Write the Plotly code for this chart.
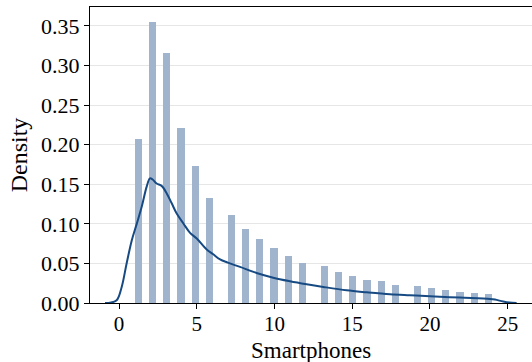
import plotly.graph_objects as go

# Histogram data: integer values and their bin densities
smartphones = list(range(1, 25))
density = [0.207, 0.355, 0.316, 0.2215, 0.173, 0.1325, 0.111, 0.093, 0.0806, 0.069,
           0.059, 0.050, 0.0465, 0.039, 0.034, 0.029, 0.0275, 0.0225, 0.021, 0.0186,
           0.016, 0.0135, 0.0123, 0.011]

# KDE curve
kde_x = [-0.9, -0.58, -0.15, 0.17, 0.49, 0.82, 1.14, 1.46, 1.78, 1.99, 2.16, 2.42, 2.74,
         3.07, 3.39, 3.71, 4.14, 4.57, 5.0, 5.64, 6.06, 6.5, 7.0, 7.78, 8.85, 9.92, 11.0,
         12.07, 13.14, 14.64, 15.93, 17.43, 18.7, 20.0, 21.93, 23.86, 24.18, 24.71, 25.1, 25.57]
kde_y = [0.0, 0.0003, 0.0034, 0.020, 0.050, 0.079, 0.100, 0.1215, 0.147, 0.1575, 0.156,
         0.151, 0.148, 0.1385, 0.126, 0.113, 0.1005, 0.0886, 0.0815, 0.0676, 0.0616, 0.055,
         0.051, 0.0456, 0.038, 0.032, 0.0275, 0.0237, 0.0203, 0.016, 0.0135, 0.011, 0.0097,
         0.0085, 0.0068, 0.0051, 0.0043, 0.0018, 0.0005, 0.0]

x_ticks = [0, 5, 10, 15, 20, 25]
y_ticks = [0.0, 0.05, 0.10, 0.15, 0.20, 0.25, 0.30, 0.35]
y_tick_labels = ["0.00", "0.05", "0.10", "0.15", "0.20", "0.25", "0.30", "0.35"]
x_title = "Smartphones"
y_title = "Density"

FONT = "Liberation Serif, Times New Roman, serif"

fig = go.Figure()
fig.add_trace(go.Histogram(
    x=smartphones, y=density, histfunc="sum",
    xbins=dict(start=1, end=24.0001, size=23 / 50 + 1e-7),
    marker=dict(color="rgba(160,181,205,1)", line=dict(width=0)),
    showlegend=False,
))
fig.add_trace(go.Scatter(
    x=kde_x, y=kde_y, mode="lines", line=dict(color="#174a82", width=2, shape="spline"),
    showlegend=False,
))

fig.update_layout(
    width=532, height=362,
    margin=dict(l=90, r=0, t=7, b=59),
    paper_bgcolor="white", plot_bgcolor="white",
    bargap=0,
    font=dict(family=FONT, size=22, color="black"),
    annotations=[dict(
        text=x_title, xref="paper", yref="paper", x=0.5, y=-0.162,
        xanchor="center", yanchor="middle", showarrow=False,
        font=dict(family=FONT, size=23, color="black"),
    )],
)
fig.update_xaxes(
    range=[-1.865, 26.56], tickvals=x_ticks,
    showline=True, linecolor="black", linewidth=1.3, mirror=True,
    ticks="outside", ticklen=5, tickcolor="black", showgrid=False, zeroline=False,
    ticklabelstandoff=-3, tickfont=dict(size=21),
)
fig.update_yaxes(
    range=[0, 0.374], tickvals=y_ticks, ticktext=y_tick_labels,
    showline=True, linecolor="black", linewidth=1.3,
    ticks="outside", ticklen=5, tickcolor="black",
    showgrid=True, gridcolor="#e6e6e6", gridwidth=1, zeroline=False,
    title=dict(text=y_title, font=dict(family=FONT, size=24), standoff=6),
)

fig.write_html("out.html")
